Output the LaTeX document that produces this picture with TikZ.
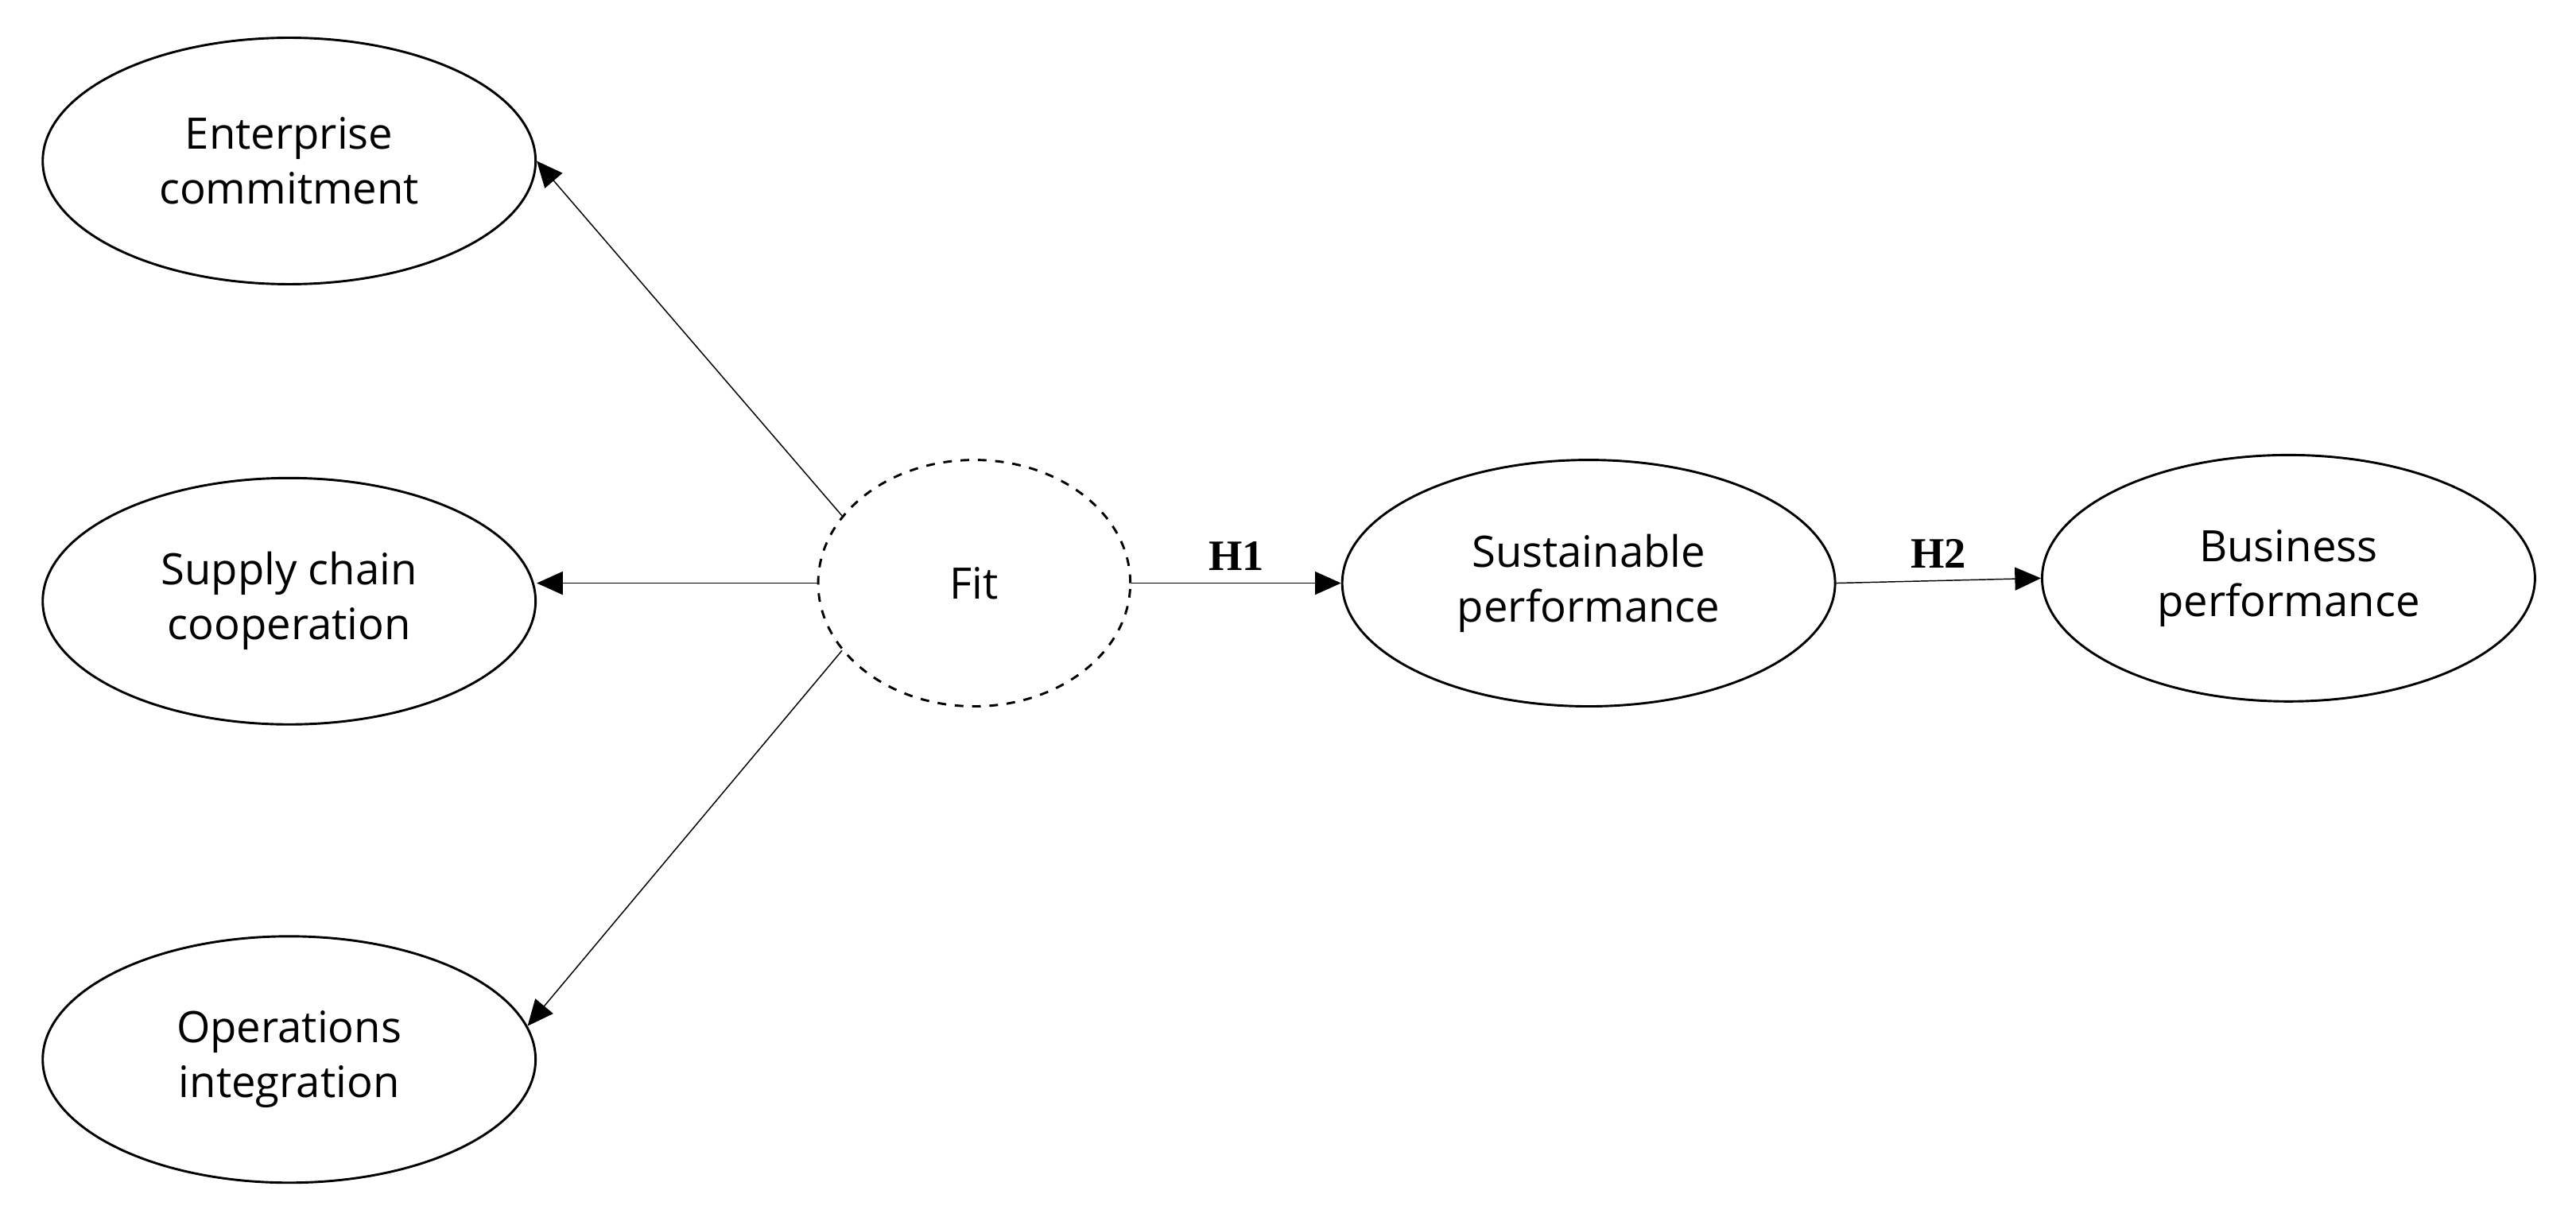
\documentclass[tikz,border=0pt]{standalone}
\usepackage{fontspec}
\setmainfont{Open Sans}
\newfontfamily\hfont{Liberation Serif}
\usetikzlibrary{shapes.geometric,arrows.meta}
\begin{document}
\begin{tikzpicture}
[every node/.style={ellipse,draw,thick,minimum width=6cm,minimum height=3cm,inner sep=0pt,align=center,font=\fontsize{15}{19}\selectfont},
 >={Triangle[length=9pt,width=8pt]}]
\useasboundingbox (0,0) rectangle (31.36,-14.96);
\node (ec) at (3.52,-1.96) {Enterprise\\commitment};
\node (sc) at (3.52,-7.32) {Supply chain\\cooperation};
\node (oi) at (3.52,-12.9) {Operations\\integration};
\node[dashed,minimum width=3.8cm] (fit) at (11.86,-7.1) {Fit};
\node (sp) at (19.34,-7.1) {Sustainable\\performance};
\node (bp) at (27.86,-7.04) {Business\\performance};
\draw[->] (fit.153) -- (ec.east);
\draw[->] (fit.west) -- (fit.west -| sc.east);
\draw[->] (fit.207) -- (oi.8);
\draw[->] (fit.east) -- node[draw=none,ellipse=false,rectangle,minimum width=0,minimum height=0,above=4pt,font=\hfont\bfseries\fontsize{15}{18}\selectfont] (h1) {H1} (sp.west);
\draw[->] (sp.east) -- node[draw=none,rectangle,minimum width=0,minimum height=0,above=4pt,font=\hfont\bfseries\fontsize{15}{18}\selectfont] (h2) {H2} (bp.west);
\end{tikzpicture}
\end{document}
